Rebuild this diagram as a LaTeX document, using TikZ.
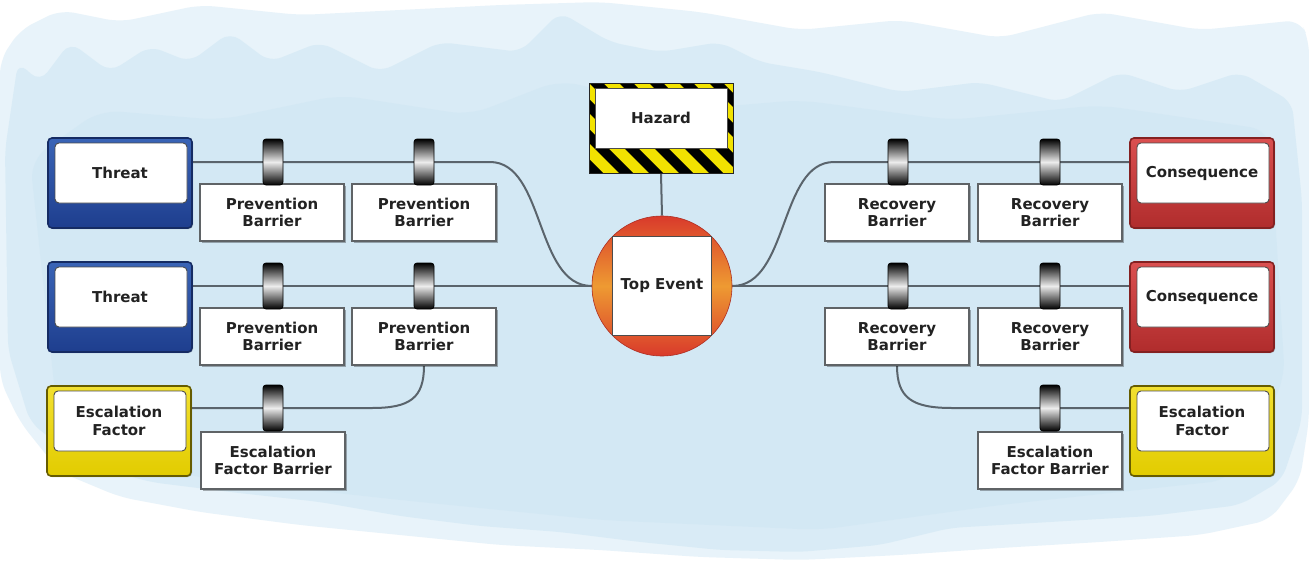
\documentclass[tikz,border=0pt]{standalone}
\usepackage{fontspec}
\setmainfont{DejaVu Sans}
\usetikzlibrary{shadows}
\pgfdeclarelayer{bg}
\pgfdeclarelayer{lines}
\pgfsetlayers{bg,lines,main}
\definecolor{wcA}{HTML}{E8F3FA}
\definecolor{wcB}{HTML}{D6EAF5}
\definecolor{wcC}{HTML}{CFE6F3}
\definecolor{conn}{HTML}{5A646C}
\definecolor{txt}{HTML}{222222}
\definecolor{boxgray}{HTML}{5F6366}
\definecolor{tbluetop}{HTML}{3A64B6}
\definecolor{tbluebot}{HTML}{1E3E8E}
\definecolor{credtop}{HTML}{DA5050}
\definecolor{credbot}{HTML}{B02C2C}
\definecolor{eyeltop}{HTML}{F2E030}
\definecolor{eyelbot}{HTML}{E2CC00}
\definecolor{hzy}{HTML}{F2E200}
\definecolor{tered}{HTML}{D93A2B}
\definecolor{teora}{HTML}{EE9A32}
\begin{document}
\begin{tikzpicture}[x=1pt,y=-1pt,
  lbl/.style={font=\bfseries\fontsize{15}{17.5}\selectfont, text=txt, align=center, inner sep=0pt},
  conn/.style={draw=conn, line width=2pt},
  barbox/.style={lbl, draw=boxgray, line width=1.4pt, fill=white, minimum width=144pt, minimum height=57pt,
    drop shadow={shadow xshift=1.5pt, shadow yshift=-1.5pt, fill=black, opacity=0.3}},
  barclip/.style={draw=black, line width=0.8pt, rounded corners=3pt, minimum width=20pt, minimum height=46pt,
    inner sep=0pt, top color=black, bottom color=black, middle color=white!85!gray},
  colbox/.style n args={3}{minimum width=144pt, minimum height=90pt, rounded corners=4pt, line width=1.6pt, inner sep=0pt,
    draw=#3, drop shadow={shadow xshift=1pt, shadow yshift=-1pt, fill=black, opacity=0.25},
    path picture={
      \shade[top color=#1, bottom color=#2]
        (path picture bounding box.south west) rectangle (path picture bounding box.north east);
      \fill[white, draw=gray!60!black, line width=0.9pt]
        ([shift={(7pt,-5pt)}]path picture bounding box.north west) rectangle
        ([shift={(-5pt,25pt)}]path picture bounding box.south east);}},
  threatbox/.style={colbox={tbluetop}{tbluebot}{tbluebot!70!black}},
  consbox/.style={colbox={credtop}{credbot}{credbot!75!black}},
  escbox/.style={colbox={eyeltop}{eyelbot}{eyelbot!45!black}},
  hazbox/.style={minimum width=144pt, minimum height=90pt, inner sep=0pt, draw=black!85, line width=1pt,
    path picture={
      \fill[hzy] (path picture bounding box.south west) rectangle (path picture bounding box.north east);
      \foreach \i in {-5,...,6}{
        \fill[black] ([xshift=\i*30pt]path picture bounding box.north west) -- ++(14pt,0pt) -- ++(95pt,-95pt) -- ++(-14pt,0pt) -- cycle;}
      \fill[white, draw=black!70, line width=0.8pt]
        ([shift={(6pt,-5pt)}]path picture bounding box.north west) rectangle
        ([shift={(-6pt,25pt)}]path picture bounding box.south east);}},
  topcirc/.style={circle, minimum size=140pt, inner sep=0pt, top color=tered, bottom color=tered, middle color=teora, draw=tered!80!black, line width=0.6pt},
  topsq/.style={lbl, minimum size=99pt, fill=white, draw=gray!60!black, line width=1pt}
]
\useasboundingbox (0,0) rectangle (1309,570);

% ---------- watercolor background ----------
\begin{pgfonlayer}{bg}
\fill[white] (0,0) rectangle (1309,570);
\fill[wcA, rounded corners=14pt] (0,60) -- (20,30) -- (60,10) -- (120,22) -- (200,5) -- (300,15) -- (400,10) -- (500,5) -- (600,2) -- (700,12) -- (800,30) -- (900,20) -- (1000,38) -- (1100,12) -- (1200,30) -- (1300,20) -- (1309,40) -- (1309,420) -- (1300,480) -- (1270,520) -- (1200,535) -- (1100,542) -- (1000,548) -- (900,555) -- (800,560) -- (700,557) -- (600,550) -- (500,545) -- (400,535) -- (300,525) -- (200,512) -- (120,497) -- (60,472) -- (20,422) -- (0,380) -- cycle;
\fill[wcB, opacity=0.8, rounded corners=12pt] (5,150) -- (18,62) -- (40,82) -- (70,42) -- (110,72) -- (150,46) -- (190,62) -- (230,32) -- (270,62) -- (320,42) -- (380,72) -- (440,42) -- (520,52) -- (560,12) -- (610,42) -- (660,52) -- (720,42) -- (760,62) -- (820,72) -- (900,92) -- (980,82) -- (1060,102) -- (1120,72) -- (1180,92) -- (1240,72) -- (1292,102) -- (1302,200) -- (1302,420) -- (1282,480) -- (1240,505) -- (1150,516) -- (1050,522) -- (950,528) -- (880,545) -- (800,552) -- (720,550) -- (640,542) -- (560,532) -- (480,526) -- (400,516) -- (320,502) -- (230,492) -- (150,482) -- (80,462) -- (30,422) -- (8,350) -- cycle;
\fill[wcC, opacity=0.5, rounded corners=20pt] (30,160) -- (100,110) -- (220,120) -- (340,95) -- (470,115) -- (560,80) -- (680,110) -- (800,100) -- (950,120) -- (1100,105) -- (1270,130) -- (1285,380) -- (1230,480) -- (1000,505) -- (820,530) -- (600,520) -- (400,500) -- (200,478) -- (60,440) -- cycle;
\end{pgfonlayer}

% ---------- center ----------
\node[hazbox] (haz) at (661,128) {};
\node[lbl] (hazl) at ([yshift=10pt]haz.center) {Hazard};
\node[topcirc] (top) at (662,286) {};
\node[topsq] (topl) at (662,286) {Top Event};

% ---------- left side ----------
\node[threatbox] (t1) at (120,183) {};
\node[lbl] (t1l) at ([yshift=10pt]t1.center) {Threat};
\node[threatbox] (t2) at (120,307) {};
\node[lbl] (t2l) at ([yshift=10pt]t2.center) {Threat};
\node[escbox] (e1) at (119,431) {};
\node[lbl] (e1l) at ([yshift=10pt]e1.center) {Escalation\\Factor};

\node[barbox] (pA1) at (272,212.5) {Prevention\\Barrier};
\node[barbox] (pB1) at (424,212.5) {Prevention\\Barrier};
\node[barbox] (pA2) at (272,336.5) {Prevention\\Barrier};
\node[barbox] (pB2) at (424,336.5) {Prevention\\Barrier};
\node[barbox] (pE1) at (273,460.5) {Escalation\\Factor Barrier};
\node[barclip] (cA1) at (273,162) {};
\node[barclip] (cB1) at (424,162) {};
\node[barclip] (cA2) at (273,286) {};
\node[barclip] (cB2) at (424,286) {};
\node[barclip] (cE1) at (273,408) {};

% ---------- right side ----------
\node[consbox] (q1) at (1202,183) {};
\node[lbl] (q1l) at ([yshift=10pt]q1.center) {Consequence};
\node[consbox] (q2) at (1202,307) {};
\node[lbl] (q2l) at ([yshift=10pt]q2.center) {Consequence};
\node[escbox] (e2) at (1202,431) {};
\node[lbl] (e2l) at ([yshift=10pt]e2.center) {Escalation\\Factor};

\node[barbox] (rC1) at (897,212.5) {Recovery\\Barrier};
\node[barbox] (rD1) at (1050,212.5) {Recovery\\Barrier};
\node[barbox] (rC2) at (897,336.5) {Recovery\\Barrier};
\node[barbox] (rD2) at (1050,336.5) {Recovery\\Barrier};
\node[barbox] (rE2) at (1050,460.5) {Escalation\\Factor Barrier};
\node[barclip] (cC1) at (898,162) {};
\node[barclip] (cD1) at (1050,162) {};
\node[barclip] (cC2) at (898,286) {};
\node[barclip] (cD2) at (1050,286) {};
\node[barclip] (cE2) at (1050,408) {};

% ---------- connectors ----------
\coordinate (kL1) at (490,162);
\coordinate (kR1) at (834,162);
\coordinate (kL3) at (372,408);
\coordinate (kR3) at (952,408);
\begin{pgfonlayer}{lines}
\draw[conn] (haz.south) -- (top.north);
\draw[conn] ([yshift=21pt]t1.east) -- (cA1.center) -- (cB1.center) -- (kL1) .. controls (545,162) and (535,286) .. (top.west);
\draw[conn] ([yshift=21pt]t2.east) -- (cA2.center) -- (cB2.center) -- (top.west);
\draw[conn] ([yshift=23pt]e1.east) -- (cE1.center) -- (kL3) .. controls (410,408) and (424,398) .. (pB2.south);
\draw[conn] (top.east) .. controls (789,286) and (779,162) .. (kR1) -- (cC1.center) -- (cD1.center) -- ([yshift=21pt]q1.west);
\draw[conn] (top.east) -- (cC2.center) -- (cD2.center) -- ([yshift=21pt]q2.west);
\draw[conn] (rC2.south) .. controls (897,398) and (912,408) .. (kR3) -- (cE2.center) -- ([yshift=23pt]e2.west);
\end{pgfonlayer}
\end{tikzpicture}
\end{document}
